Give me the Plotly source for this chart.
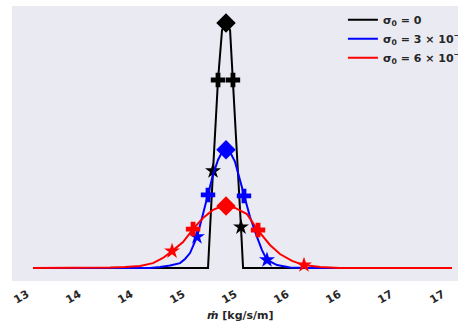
import plotly.graph_objects as go

# ---- data ----
tick_vals = [13.0, 13.5, 14.0, 14.5, 15.0, 15.5, 16.0, 16.5, 17.0]
tick_text = ["13", "14", "14", "15", "15", "16", "16", "17", "17"]

black_x = [13.115, 14.798, 14.846, 14.894, 14.933, 14.971, 15.010, 15.038, 15.077, 15.115, 15.135, 17.144]
black_y = [0.0, 0.0, 0.396, 0.767, 0.971, 1.0, 0.971, 0.767, 0.469, 0.167, 0.0, 0.0]

blue_x = [13.115, 14.240, 14.337, 14.433, 14.529, 14.577, 14.625, 14.692, 14.750, 14.798,
          14.846, 14.894, 14.933, 14.971, 15.010, 15.058, 15.106, 15.144, 15.202, 15.269,
          15.317, 15.365, 15.462, 15.587, 15.779, 17.144]
blue_y = [0.0, 0.0, 0.004, 0.010, 0.020, 0.037, 0.061, 0.127, 0.220, 0.298,
          0.380, 0.441, 0.473, 0.482, 0.473, 0.433, 0.359, 0.294, 0.208, 0.127,
          0.073, 0.033, 0.012, 0.002, 0.0, 0.0]

red_x = [13.115, 13.663, 13.856, 14.0, 14.144, 14.269, 14.365, 14.452, 14.558, 14.654,
         14.750, 14.846, 14.913, 14.971, 15.058, 15.173, 15.279, 15.394, 15.490, 15.606,
         15.721, 15.875, 16.067, 17.144]
red_y = [0.0, 0.0, 0.002, 0.004, 0.008, 0.020, 0.041, 0.069, 0.106, 0.159,
         0.204, 0.237, 0.249, 0.253, 0.245, 0.220, 0.153, 0.094, 0.057, 0.029,
         0.012, 0.004, 0.0, 0.0]

# markers: peak (diamond), inner points (cross), outer points (star)
black_peak = ([14.971], [1.0])
black_cross = ([14.894, 15.038], [0.767, 0.767])
black_star = ([14.846, 15.115], [0.396, 0.167])

blue_peak = ([14.971], [0.482])
blue_cross = ([14.798, 15.144], [0.298, 0.294])
blue_star = ([14.692, 15.365], [0.127, 0.033])

red_peak = ([14.971], [0.253])
red_cross = ([14.654, 15.279], [0.159, 0.155])
red_star = ([14.452, 15.721], [0.069, 0.012])

names = ["<b>σ<sub>0</sub> = 0</b>",
         "<b>σ<sub>0</sub> = 3 × 10<sup>−5</sup></b>",
         "<b>σ<sub>0</sub> = 6 × 10<sup>−5</sup></b>"]
colors = ["black", "blue", "red"]

fig = go.Figure()

series = [
    (black_x, black_y, black_peak, black_cross, black_star),
    (blue_x, blue_y, blue_peak, blue_cross, blue_star),
    (red_x, red_y, red_peak, red_cross, red_star),
]

for (sx, sy, pk, cr, st), nm, col in zip(series, names, colors):
    fig.add_trace(go.Scatter(x=sx, y=sy, mode="lines", name=nm,
                             line=dict(color=col, width=2)))
    fig.add_trace(go.Scatter(x=pk[0], y=pk[1], mode="markers", showlegend=False,
                             marker=dict(symbol="diamond", size=15, color=col)))
    fig.add_trace(go.Scatter(x=cr[0], y=cr[1], mode="markers", showlegend=False,
                             marker=dict(symbol="cross", size=12, color=col)))
    fig.add_trace(go.Scatter(x=st[0], y=st[1], mode="markers", showlegend=False,
                             marker=dict(symbol="star", size=12, color=col)))

fig.update_layout(
    width=458, height=326,
    margin=dict(l=12, r=0, t=6, b=45, autoexpand=False),
    paper_bgcolor="white",
    plot_bgcolor="#EAEAF2",
    font=dict(family="DejaVu Sans", size=11, color="#262626"),
    showlegend=True,
    legend=dict(x=0.742, y=1.003, xanchor="left", yanchor="top",
                bgcolor="rgba(0,0,0,0)", borderwidth=0,
                font=dict(family="DejaVu Sans", size=11, color="#262626")),
    xaxis=dict(range=[12.913, 17.202], tickvals=tick_vals,
               ticktext=["<b>%s</b>" % t for t in tick_text],
               tickangle=-30, ticklabelshift=6, ticklabelstandoff=4,
               showgrid=False, zeroline=False, showline=False,
               ticks="", tickfont=dict(family="DejaVu Sans", size=11, color="#262626")),
    yaxis=dict(range=[-0.053, 1.069], showticklabels=False, showgrid=False,
               zeroline=False, showline=False, ticks=""),
    annotations=[dict(text="<b><i>ṁ</i> [kg/s/m]</b>", xref="paper", yref="paper",
                      x=0.513, y=0, yshift=-34, xanchor="center", yanchor="middle",
                      showarrow=False,
                      font=dict(family="DejaVu Sans", size=11, color="#262626"))],
)

fig.write_html("out.html", config={"displayModeBar": False},
               post_script="document.body.style.margin='0px';document.body.style.overflow='hidden';")
